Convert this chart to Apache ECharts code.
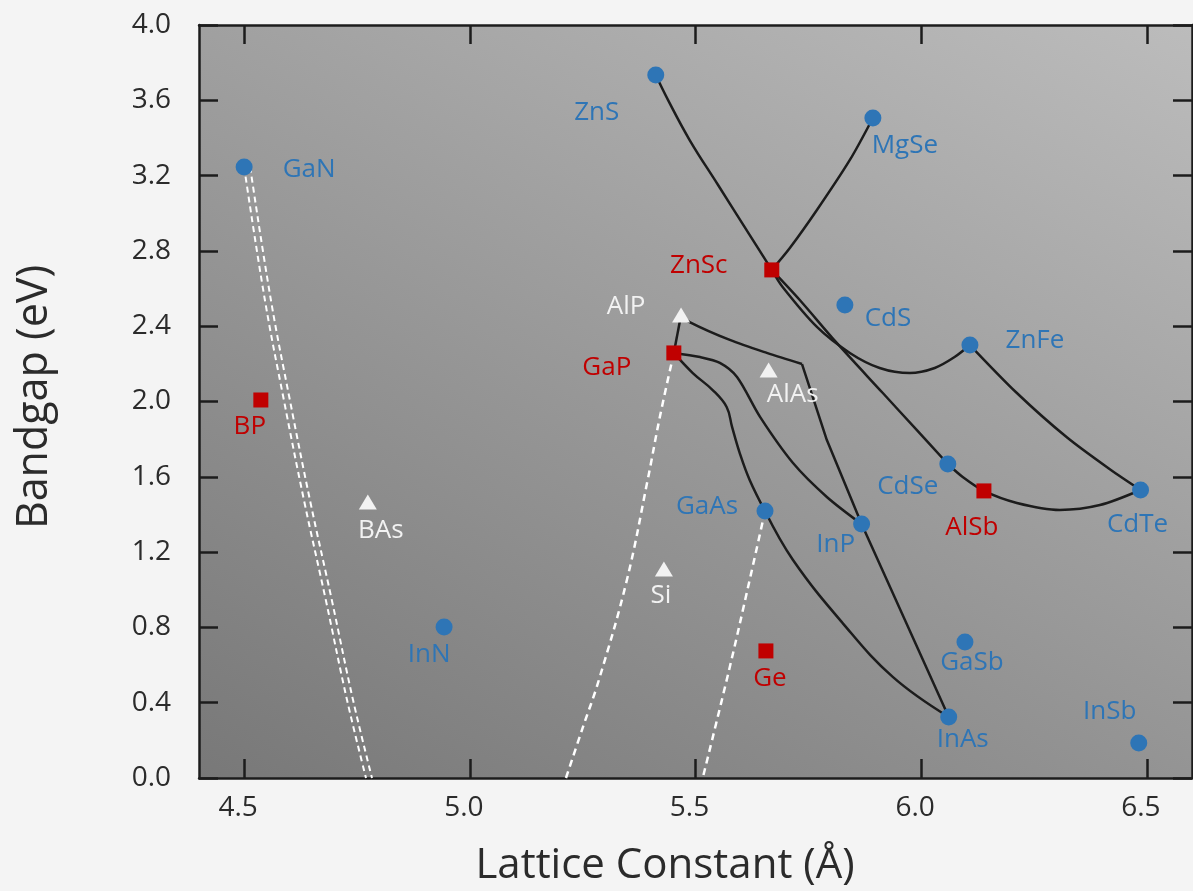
<!DOCTYPE html>
<html>
<head>
<meta charset="utf-8">
<script src="https://cdn.jsdelivr.net/npm/echarts@6/dist/echarts.min.js"></script>
<style>
  html, body { margin: 0; padding: 0; background: #f4f4f4; }
  #chart { width: 1193px; height: 891px; }
</style>
</head>
<body>
<div id="chart"></div>
<script>
// ---- axis ticks ----
const xTicks = [4.5, 5.0, 5.5, 6.0, 6.5];

// ---- compounds: lattice constant (Å) and bandgap (eV) ----
const circleNames = ['GaN', 'ZnS', 'MgSe', 'CdS', 'ZnFe', 'CdSe', 'CdTe', 'GaAs', 'InP', 'InN', 'GaSb', 'InAs', 'InSb'];
const circleX = [4.500, 5.412, 5.893, 5.831, 6.108, 6.059, 6.486, 5.654, 5.868, 4.943, 6.097, 6.061, 6.482];
const circleY = [3.246, 3.734, 3.506, 2.513, 2.300, 1.668, 1.530, 1.418, 1.349, 0.802, 0.722, 0.324, 0.186];

const squareNames = ['ZnSc', 'GaP', 'BP', 'AlSb', 'Ge'];
const squareX = [5.669, 5.452, 4.537, 6.139, 5.656];
const squareY = [2.699, 2.258, 2.008, 1.525, 0.675];

const triangleNames = ['AlP', 'AlAs', 'BAs', 'Si'];
const triangleX = [5.468, 5.662, 4.774, 5.430];
const triangleY = [2.459, 2.167, 1.466, 1.110];

// ---- alloy curves (solid black) ----
const curveZnSZnSc = [[5.412, 3.734], [5.439, 3.602], [5.487, 3.389], [5.550, 3.150], [5.616, 2.900], [5.669, 2.699]];
const curveZnScMgSe = [[5.669, 2.699], [5.709, 2.815], [5.769, 3.017], [5.842, 3.283], [5.893, 3.506]];
const curveZnScZnFe = [[5.669, 2.699], [5.693, 2.608], [5.769, 2.396], [5.842, 2.258], [5.908, 2.178], [5.975, 2.151], [6.030, 2.178], [6.074, 2.236], [6.108, 2.300]];
const curveZnScCdSe = [[5.669, 2.699], [5.731, 2.539], [5.813, 2.311], [5.915, 2.045], [5.990, 1.849], [6.059, 1.668]];
const curveCdSeCdTe = [[6.059, 1.668], [6.092, 1.599], [6.139, 1.525], [6.212, 1.461], [6.307, 1.424], [6.396, 1.450], [6.486, 1.530]];
const curveZnFeCdTe = [[6.108, 2.300], [6.212, 2.045], [6.322, 1.811], [6.418, 1.640], [6.486, 1.530]];
const curveGaPAlP = [[5.452, 2.258], [5.468, 2.459]];
const curveAlPBend = [[5.468, 2.459], [5.487, 2.422], [5.576, 2.327], [5.658, 2.258], [5.736, 2.199]];
const curveBendInAs = [[5.736, 2.199], [5.791, 1.795], [5.868, 1.349], [6.061, 0.324]];
const curveGaPInP = [[5.452, 2.258], [5.510, 2.236], [5.554, 2.205], [5.592, 2.130], [5.643, 1.918], [5.716, 1.673], [5.791, 1.493], [5.868, 1.349]];
const curveGaPGaAs = [[5.452, 2.258], [5.494, 2.151], [5.538, 2.061], [5.569, 1.971], [5.581, 1.865], [5.598, 1.726], [5.620, 1.583], [5.654, 1.418]];
const curveGaAsInAs = [[5.654, 1.418], [5.716, 1.158], [5.826, 0.823], [5.937, 0.537], [6.061, 0.324]];

// ---- tie lines (white dashed) ----
const tieGaN = [[4.500, 3.246], [4.546, 2.539], [4.588, 2.008], [4.633, 1.471], [4.681, 0.945], [4.728, 0.414], [4.770, 0]];
const tieGaP = [[5.452, 2.258], [5.421, 1.918], [5.394, 1.583], [5.348, 1.052], [5.286, 0.521], [5.250, 0.266], [5.213, 0]];
const tieGaAs = [[5.654, 1.418], [5.620, 1.052], [5.576, 0.590], [5.516, 0]];

// ---- label placement (pixel offsets from the marker centre) ----
const labelOffsets = {
  GaN: [65, 3], ZnS: [-59, 38], MgSe: [32, 28], CdS: [43, 14], ZnFe: [65, -4],
  CdSe: [-40, 23], CdTe: [-3, 35], GaAs: [-58, -4], InP: [-26, 21], InN: [-15, 28],
  GaSb: [7, 21], InAs: [14, 23], InSb: [-29, -31],
  ZnSc: [-73, -4], GaP: [-67, 15], BP: [-11, 27], AlSb: [-12, 37], Ge: [4, 28],
  AlP: [-55, -8], AlAs: [24, 25], BAs: [13, 29], Si: [-3, 27]
};

const FONT = '"Open Sans", "Noto Sans", sans-serif';
const INK = '#1c1c1c';
const TEXT = '#2b2b2b';
const BLUE = '#2e75b6';
const RED = '#c00000';
const WHITE = '#f2f2f2';

function points(names, xs, ys) {
  return names.map((n, i) => ({
    name: n,
    value: [xs[i], ys[i]],
    label: { offset: labelOffsets[n] }
  }));
}

function solid(data, smooth) {
  return {
    type: 'line', data: data, smooth: smooth, symbol: 'none', showSymbol: false,
    lineStyle: { color: INK, width: 2.5 }, z: 3, silent: true
  };
}

function dashed(data, extra) {
  return {
    type: 'line', data: data, smooth: 0.4, symbol: 'none', showSymbol: false,
    lineStyle: Object.assign({ color: '#ffffff', width: 2.5, type: [7, 5] }, extra || {}),
    z: 2, silent: true
  };
}

function scatter(data, symbol, size, color) {
  return {
    type: 'scatter', data: data, symbol: symbol, symbolSize: size,
    itemStyle: { color: color, opacity: 1 },
    label: {
      show: true, position: 'inside', formatter: '{b}',
      color: color, fontSize: 26, fontFamily: FONT
    },
    z: 5, silent: true
  };
}

const axisLineStyle = { color: INK, width: 2.5 };
const tickStyle = { show: true, inside: true, length: 19, lineStyle: { color: INK, width: 2.5 } };

const chart = echarts.init(document.getElementById('chart'), null, { renderer: 'canvas' });

chart.setOption({
  animation: false,
  backgroundColor: '#f4f4f4',
  grid: {
    left: 199, right: 1, top: 25, bottom: 113,
    containLabel: false, outerBoundsMode: 'none',
    show: true, borderWidth: 0,
    backgroundColor: new echarts.graphic.LinearGradient(0, 1, 0.53, -0.327, [
      { offset: 0, color: '#787878' },
      { offset: 1, color: '#bcbcbc' }
    ])
  },
  xAxis: [
    {
      type: 'value', min: 4.4, max: 6.6, position: 'bottom',
      axisLine: { show: true, onZero: false, lineStyle: axisLineStyle },
      axisTick: Object.assign({ customValues: xTicks }, tickStyle),
      axisLabel: {
        customValues: xTicks, formatter: v => v.toFixed(1),
        fontSize: 28, fontFamily: FONT, color: TEXT, margin: 16, padding: [0, 12, 0, 0]
      },
      splitLine: { show: false }
    },
    {
      type: 'value', min: 4.4, max: 6.6, position: 'top',
      axisLine: { show: true, onZero: false, lineStyle: axisLineStyle },
      axisTick: Object.assign({ customValues: xTicks }, tickStyle),
      axisLabel: { show: false },
      splitLine: { show: false }
    }
  ],
  yAxis: [
    {
      type: 'value', min: 0, max: 4, interval: 0.4, position: 'left',
      axisLine: { show: true, onZero: false, lineStyle: axisLineStyle },
      axisTick: tickStyle,
      axisLabel: {
        formatter: v => v.toFixed(1),
        fontSize: 28, fontFamily: FONT, color: TEXT, margin: 28
      },
      splitLine: { show: false }
    },
    {
      type: 'value', min: 0, max: 4, interval: 0.4, position: 'right',
      axisLine: { show: true, onZero: false, lineStyle: axisLineStyle },
      axisTick: tickStyle,
      axisLabel: { show: false },
      splitLine: { show: false }
    }
  ],
  graphic: [
    {
      type: 'text', x: 665, y: 866, silent: true,
      style: { text: 'Lattice Constant (Å)', fontSize: 42, fontFamily: FONT, fill: TEXT, align: 'center', verticalAlign: 'middle' }
    },
    {
      type: 'text', x: 35, y: 397, rotation: Math.PI / 2, silent: true,
      style: { text: 'Bandgap (eV)', fontSize: 43, fontFamily: FONT, fill: TEXT, align: 'center', verticalAlign: 'middle' }
    }
  ],
  series: [
    dashed(tieGaN, { width: 2, type: [6, 4], shadowColor: '#ffffff', shadowBlur: 0, shadowOffsetX: 6 }),
    dashed(tieGaP),
    dashed(tieGaAs),
    solid(curveZnSZnSc, 0.4),
    solid(curveZnScMgSe, 0.3),
    solid(curveZnScZnFe, 0.3),
    solid(curveZnScCdSe, 0.3),
    solid(curveCdSeCdTe, 0.3),
    solid(curveZnFeCdTe, 0.3),
    solid(curveGaPAlP, false),
    solid(curveAlPBend, 0.3),
    solid(curveBendInAs, false),
    solid(curveGaPInP, 0.3),
    solid(curveGaPGaAs, 0.4),
    solid(curveGaAsInAs, 0.4),
    scatter(points(circleNames, circleX, circleY), 'circle', 17, BLUE),
    scatter(points(squareNames, squareX, squareY), 'rect', 15, RED),
    scatter(points(triangleNames, triangleX, triangleY), 'triangle', [18, 15], WHITE)
  ]
});
</script>
</body>
</html>
